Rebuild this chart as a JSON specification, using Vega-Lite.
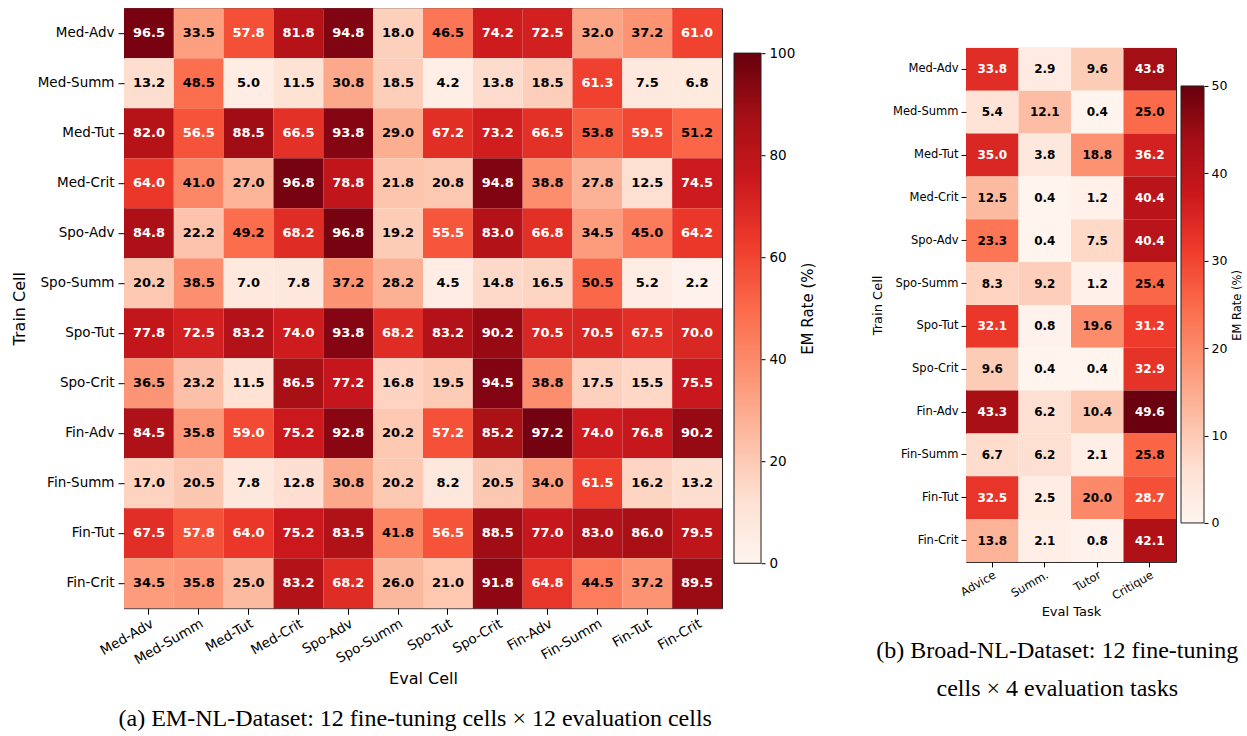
{
  "$schema": "https://vega.github.io/schema/vega-lite/v6.json",
  "background": "white",
  "padding": {"top": 7, "left": 10, "right": 0, "bottom": 0},
  "datasets": {
    "a": [
      {"t":"Med-Adv","e":"Med-Adv","v":96.5},{"t":"Med-Adv","e":"Med-Summ","v":33.5},{"t":"Med-Adv","e":"Med-Tut","v":57.8},{"t":"Med-Adv","e":"Med-Crit","v":81.8},{"t":"Med-Adv","e":"Spo-Adv","v":94.8},{"t":"Med-Adv","e":"Spo-Summ","v":18.0},{"t":"Med-Adv","e":"Spo-Tut","v":46.5},{"t":"Med-Adv","e":"Spo-Crit","v":74.2},{"t":"Med-Adv","e":"Fin-Adv","v":72.5},{"t":"Med-Adv","e":"Fin-Summ","v":32.0},{"t":"Med-Adv","e":"Fin-Tut","v":37.2},{"t":"Med-Adv","e":"Fin-Crit","v":61.0},
      {"t":"Med-Summ","e":"Med-Adv","v":13.2},{"t":"Med-Summ","e":"Med-Summ","v":48.5},{"t":"Med-Summ","e":"Med-Tut","v":5.0},{"t":"Med-Summ","e":"Med-Crit","v":11.5},{"t":"Med-Summ","e":"Spo-Adv","v":30.8},{"t":"Med-Summ","e":"Spo-Summ","v":18.5},{"t":"Med-Summ","e":"Spo-Tut","v":4.2},{"t":"Med-Summ","e":"Spo-Crit","v":13.8},{"t":"Med-Summ","e":"Fin-Adv","v":18.5},{"t":"Med-Summ","e":"Fin-Summ","v":61.3},{"t":"Med-Summ","e":"Fin-Tut","v":7.5},{"t":"Med-Summ","e":"Fin-Crit","v":6.8},
      {"t":"Med-Tut","e":"Med-Adv","v":82.0},{"t":"Med-Tut","e":"Med-Summ","v":56.5},{"t":"Med-Tut","e":"Med-Tut","v":88.5},{"t":"Med-Tut","e":"Med-Crit","v":66.5},{"t":"Med-Tut","e":"Spo-Adv","v":93.8},{"t":"Med-Tut","e":"Spo-Summ","v":29.0},{"t":"Med-Tut","e":"Spo-Tut","v":67.2},{"t":"Med-Tut","e":"Spo-Crit","v":73.2},{"t":"Med-Tut","e":"Fin-Adv","v":66.5},{"t":"Med-Tut","e":"Fin-Summ","v":53.8},{"t":"Med-Tut","e":"Fin-Tut","v":59.5},{"t":"Med-Tut","e":"Fin-Crit","v":51.2},
      {"t":"Med-Crit","e":"Med-Adv","v":64.0},{"t":"Med-Crit","e":"Med-Summ","v":41.0},{"t":"Med-Crit","e":"Med-Tut","v":27.0},{"t":"Med-Crit","e":"Med-Crit","v":96.8},{"t":"Med-Crit","e":"Spo-Adv","v":78.8},{"t":"Med-Crit","e":"Spo-Summ","v":21.8},{"t":"Med-Crit","e":"Spo-Tut","v":20.8},{"t":"Med-Crit","e":"Spo-Crit","v":94.8},{"t":"Med-Crit","e":"Fin-Adv","v":38.8},{"t":"Med-Crit","e":"Fin-Summ","v":27.8},{"t":"Med-Crit","e":"Fin-Tut","v":12.5},{"t":"Med-Crit","e":"Fin-Crit","v":74.5},
      {"t":"Spo-Adv","e":"Med-Adv","v":84.8},{"t":"Spo-Adv","e":"Med-Summ","v":22.2},{"t":"Spo-Adv","e":"Med-Tut","v":49.2},{"t":"Spo-Adv","e":"Med-Crit","v":68.2},{"t":"Spo-Adv","e":"Spo-Adv","v":96.8},{"t":"Spo-Adv","e":"Spo-Summ","v":19.2},{"t":"Spo-Adv","e":"Spo-Tut","v":55.5},{"t":"Spo-Adv","e":"Spo-Crit","v":83.0},{"t":"Spo-Adv","e":"Fin-Adv","v":66.8},{"t":"Spo-Adv","e":"Fin-Summ","v":34.5},{"t":"Spo-Adv","e":"Fin-Tut","v":45.0},{"t":"Spo-Adv","e":"Fin-Crit","v":64.2},
      {"t":"Spo-Summ","e":"Med-Adv","v":20.2},{"t":"Spo-Summ","e":"Med-Summ","v":38.5},{"t":"Spo-Summ","e":"Med-Tut","v":7.0},{"t":"Spo-Summ","e":"Med-Crit","v":7.8},{"t":"Spo-Summ","e":"Spo-Adv","v":37.2},{"t":"Spo-Summ","e":"Spo-Summ","v":28.2},{"t":"Spo-Summ","e":"Spo-Tut","v":4.5},{"t":"Spo-Summ","e":"Spo-Crit","v":14.8},{"t":"Spo-Summ","e":"Fin-Adv","v":16.5},{"t":"Spo-Summ","e":"Fin-Summ","v":50.5},{"t":"Spo-Summ","e":"Fin-Tut","v":5.2},{"t":"Spo-Summ","e":"Fin-Crit","v":2.2},
      {"t":"Spo-Tut","e":"Med-Adv","v":77.8},{"t":"Spo-Tut","e":"Med-Summ","v":72.5},{"t":"Spo-Tut","e":"Med-Tut","v":83.2},{"t":"Spo-Tut","e":"Med-Crit","v":74.0},{"t":"Spo-Tut","e":"Spo-Adv","v":93.8},{"t":"Spo-Tut","e":"Spo-Summ","v":68.2},{"t":"Spo-Tut","e":"Spo-Tut","v":83.2},{"t":"Spo-Tut","e":"Spo-Crit","v":90.2},{"t":"Spo-Tut","e":"Fin-Adv","v":70.5},{"t":"Spo-Tut","e":"Fin-Summ","v":70.5},{"t":"Spo-Tut","e":"Fin-Tut","v":67.5},{"t":"Spo-Tut","e":"Fin-Crit","v":70.0},
      {"t":"Spo-Crit","e":"Med-Adv","v":36.5},{"t":"Spo-Crit","e":"Med-Summ","v":23.2},{"t":"Spo-Crit","e":"Med-Tut","v":11.5},{"t":"Spo-Crit","e":"Med-Crit","v":86.5},{"t":"Spo-Crit","e":"Spo-Adv","v":77.2},{"t":"Spo-Crit","e":"Spo-Summ","v":16.8},{"t":"Spo-Crit","e":"Spo-Tut","v":19.5},{"t":"Spo-Crit","e":"Spo-Crit","v":94.5},{"t":"Spo-Crit","e":"Fin-Adv","v":38.8},{"t":"Spo-Crit","e":"Fin-Summ","v":17.5},{"t":"Spo-Crit","e":"Fin-Tut","v":15.5},{"t":"Spo-Crit","e":"Fin-Crit","v":75.5},
      {"t":"Fin-Adv","e":"Med-Adv","v":84.5},{"t":"Fin-Adv","e":"Med-Summ","v":35.8},{"t":"Fin-Adv","e":"Med-Tut","v":59.0},{"t":"Fin-Adv","e":"Med-Crit","v":75.2},{"t":"Fin-Adv","e":"Spo-Adv","v":92.8},{"t":"Fin-Adv","e":"Spo-Summ","v":20.2},{"t":"Fin-Adv","e":"Spo-Tut","v":57.2},{"t":"Fin-Adv","e":"Spo-Crit","v":85.2},{"t":"Fin-Adv","e":"Fin-Adv","v":97.2},{"t":"Fin-Adv","e":"Fin-Summ","v":74.0},{"t":"Fin-Adv","e":"Fin-Tut","v":76.8},{"t":"Fin-Adv","e":"Fin-Crit","v":90.2},
      {"t":"Fin-Summ","e":"Med-Adv","v":17.0},{"t":"Fin-Summ","e":"Med-Summ","v":20.5},{"t":"Fin-Summ","e":"Med-Tut","v":7.8},{"t":"Fin-Summ","e":"Med-Crit","v":12.8},{"t":"Fin-Summ","e":"Spo-Adv","v":30.8},{"t":"Fin-Summ","e":"Spo-Summ","v":20.2},{"t":"Fin-Summ","e":"Spo-Tut","v":8.2},{"t":"Fin-Summ","e":"Spo-Crit","v":20.5},{"t":"Fin-Summ","e":"Fin-Adv","v":34.0},{"t":"Fin-Summ","e":"Fin-Summ","v":61.5},{"t":"Fin-Summ","e":"Fin-Tut","v":16.2},{"t":"Fin-Summ","e":"Fin-Crit","v":13.2},
      {"t":"Fin-Tut","e":"Med-Adv","v":67.5},{"t":"Fin-Tut","e":"Med-Summ","v":57.8},{"t":"Fin-Tut","e":"Med-Tut","v":64.0},{"t":"Fin-Tut","e":"Med-Crit","v":75.2},{"t":"Fin-Tut","e":"Spo-Adv","v":83.5},{"t":"Fin-Tut","e":"Spo-Summ","v":41.8},{"t":"Fin-Tut","e":"Spo-Tut","v":56.5},{"t":"Fin-Tut","e":"Spo-Crit","v":88.5},{"t":"Fin-Tut","e":"Fin-Adv","v":77.0},{"t":"Fin-Tut","e":"Fin-Summ","v":83.0},{"t":"Fin-Tut","e":"Fin-Tut","v":86.0},{"t":"Fin-Tut","e":"Fin-Crit","v":79.5},
      {"t":"Fin-Crit","e":"Med-Adv","v":34.5},{"t":"Fin-Crit","e":"Med-Summ","v":35.8},{"t":"Fin-Crit","e":"Med-Tut","v":25.0},{"t":"Fin-Crit","e":"Med-Crit","v":83.2},{"t":"Fin-Crit","e":"Spo-Adv","v":68.2},{"t":"Fin-Crit","e":"Spo-Summ","v":26.0},{"t":"Fin-Crit","e":"Spo-Tut","v":21.0},{"t":"Fin-Crit","e":"Spo-Crit","v":91.8},{"t":"Fin-Crit","e":"Fin-Adv","v":64.8},{"t":"Fin-Crit","e":"Fin-Summ","v":44.5},{"t":"Fin-Crit","e":"Fin-Tut","v":37.2},{"t":"Fin-Crit","e":"Fin-Crit","v":89.5}
    ],
    "b": [
      {"t":"Med-Adv","e":"Advice","v":33.8},{"t":"Med-Adv","e":"Summ.","v":2.9},{"t":"Med-Adv","e":"Tutor","v":9.6},{"t":"Med-Adv","e":"Critique","v":43.8},
      {"t":"Med-Summ","e":"Advice","v":5.4},{"t":"Med-Summ","e":"Summ.","v":12.1},{"t":"Med-Summ","e":"Tutor","v":0.4},{"t":"Med-Summ","e":"Critique","v":25.0},
      {"t":"Med-Tut","e":"Advice","v":35.0},{"t":"Med-Tut","e":"Summ.","v":3.8},{"t":"Med-Tut","e":"Tutor","v":18.8},{"t":"Med-Tut","e":"Critique","v":36.2},
      {"t":"Med-Crit","e":"Advice","v":12.5},{"t":"Med-Crit","e":"Summ.","v":0.4},{"t":"Med-Crit","e":"Tutor","v":1.2},{"t":"Med-Crit","e":"Critique","v":40.4},
      {"t":"Spo-Adv","e":"Advice","v":23.3},{"t":"Spo-Adv","e":"Summ.","v":0.4},{"t":"Spo-Adv","e":"Tutor","v":7.5},{"t":"Spo-Adv","e":"Critique","v":40.4},
      {"t":"Spo-Summ","e":"Advice","v":8.3},{"t":"Spo-Summ","e":"Summ.","v":9.2},{"t":"Spo-Summ","e":"Tutor","v":1.2},{"t":"Spo-Summ","e":"Critique","v":25.4},
      {"t":"Spo-Tut","e":"Advice","v":32.1},{"t":"Spo-Tut","e":"Summ.","v":0.8},{"t":"Spo-Tut","e":"Tutor","v":19.6},{"t":"Spo-Tut","e":"Critique","v":31.2},
      {"t":"Spo-Crit","e":"Advice","v":9.6},{"t":"Spo-Crit","e":"Summ.","v":0.4},{"t":"Spo-Crit","e":"Tutor","v":0.4},{"t":"Spo-Crit","e":"Critique","v":32.9},
      {"t":"Fin-Adv","e":"Advice","v":43.3},{"t":"Fin-Adv","e":"Summ.","v":6.2},{"t":"Fin-Adv","e":"Tutor","v":10.4},{"t":"Fin-Adv","e":"Critique","v":49.6},
      {"t":"Fin-Summ","e":"Advice","v":6.7},{"t":"Fin-Summ","e":"Summ.","v":6.2},{"t":"Fin-Summ","e":"Tutor","v":2.1},{"t":"Fin-Summ","e":"Critique","v":25.8},
      {"t":"Fin-Tut","e":"Advice","v":32.5},{"t":"Fin-Tut","e":"Summ.","v":2.5},{"t":"Fin-Tut","e":"Tutor","v":20.0},{"t":"Fin-Tut","e":"Critique","v":28.7},
      {"t":"Fin-Crit","e":"Advice","v":13.8},{"t":"Fin-Crit","e":"Summ.","v":2.1},{"t":"Fin-Crit","e":"Tutor","v":0.8},{"t":"Fin-Crit","e":"Critique","v":42.1}
    ]
  },
  "hconcat": [
    {
      "title": {"text": "(a) EM-NL-Dataset: 12 fine-tuning cells × 12 evaluation cells", "subtitle": " ", "subtitleFontSize": 10, "subtitlePadding": 0, "orient": "bottom", "anchor": "middle", "frame": "bounds", "offset": 20, "dx": 2},
      "bounds": "flush",
      "spacing": 12,
      "resolve": {"scale": {"x": "independent", "y": "independent", "color": "independent"}},
      "hconcat": [
        {
          "data": {"name": "a"},
          "width": 598,
          "height": 600,
          "encoding": {
            "x": {"field": "e", "type": "nominal", "title": "Eval Cell",
              "scale": {"domain": ["Med-Adv","Med-Summ","Med-Tut","Med-Crit","Spo-Adv","Spo-Summ","Spo-Tut","Spo-Crit","Fin-Adv","Fin-Summ","Fin-Tut","Fin-Crit"], "paddingInner": 0, "paddingOuter": 0},
              "axis": {"labelAngle": -30, "labelAlign": "right", "labelBaseline": "top", "labelFontSize": 13.5, "titleFontSize": 16, "tickSize": 6, "labelPadding": 2, "titlePadding": 4}},
            "y": {"field": "t", "type": "nominal", "title": "Train Cell",
              "scale": {"domain": ["Med-Adv","Med-Summ","Med-Tut","Med-Crit","Spo-Adv","Spo-Summ","Spo-Tut","Spo-Crit","Fin-Adv","Fin-Summ","Fin-Tut","Fin-Crit"], "paddingInner": 0, "paddingOuter": 0},
              "axis": {"labelFontSize": 13.5, "titleFontSize": 16, "tickSize": 6, "labelPadding": 4, "titlePadding": 10}}
          },
          "layer": [
            {"mark": {"type": "rect"},
             "encoding": {"color": {"field": "v", "type": "quantitative", "legend": null,
               "scale": {"domain": [0, 12.5, 25, 37.5, 50, 62.5, 75, 87.5, 100], "range": ["#fff5f0","#fee0d2","#fcbba1","#fc9272","#fb6a4a","#ef3b2c","#cb181d","#a50f15","#67000d"]}}}},
            {"mark": {"type": "text", "font": "DejaVu Sans", "fontWeight": "bold", "fontSize": 13},
             "encoding": {"text": {"field": "v", "type": "quantitative", "format": ".1f"},
               "color": {"condition": {"test": "datum.v > 55", "value": "white"}, "value": "black"}}}
          ]
        },
        {
          "data": {"values": [{"lo": 0, "hi": 100}]},
          "width": 27,
          "height": 600,
          "view": {"stroke": null},
          "mark": {"type": "rect", "stroke": "#222222", "strokeWidth": 1,
            "fill": {"gradient": "linear", "x1": 0, "y1": 1, "x2": 0, "y2": 0,
              "stops": [{"offset": 0, "color": "#fff5f0"},{"offset": 0.125, "color": "#fee0d2"},{"offset": 0.25, "color": "#fcbba1"},{"offset": 0.375, "color": "#fc9272"},{"offset": 0.5, "color": "#fb6a4a"},{"offset": 0.625, "color": "#ef3b2c"},{"offset": 0.75, "color": "#cb181d"},{"offset": 0.875, "color": "#a50f15"},{"offset": 1, "color": "#67000d"}]}},
          "encoding": {
            "y": {"field": "lo", "type": "quantitative", "title": "EM Rate (%)",
              "scale": {"domain": [-8.8, 108.8], "nice": false, "zero": false},
              "axis": {"orient": "right", "values": [0, 20, 40, 60, 80, 100], "tickSize": 4, "labelPadding": 4, "labelFontSize": 13.5, "titleFontSize": 15, "titleAngle": 270, "titleBaseline": "top", "titlePadding": 6, "grid": false, "domain": false}},
            "y2": {"field": "hi"}
          }
        }
      ]
    },
    {
      "title": {"text": ["(b) Broad-NL-Dataset: 12 fine-tuning", "cells × 4 evaluation tasks"], "orient": "bottom", "anchor": "middle", "frame": "bounds", "offset": 20, "dx": 0, "lineHeight": 38},
      "bounds": "flush",
      "spacing": 5,
      "resolve": {"scale": {"x": "independent", "y": "independent", "color": "independent"}},
      "hconcat": [
        {
          "data": {"name": "b"},
          "width": 210,
          "height": 514,
          "encoding": {
            "x": {"field": "e", "type": "nominal", "title": "Eval Task",
              "scale": {"domain": ["Advice","Summ.","Tutor","Critique"], "paddingInner": 0, "paddingOuter": 0},
              "axis": {"labelAngle": -30, "labelAlign": "right", "labelBaseline": "top", "labelFontSize": 11.5, "titleFontSize": 13, "tickSize": 5, "labelPadding": 2, "titlePadding": 4}},
            "y": {"field": "t", "type": "nominal", "title": "Train Cell",
              "scale": {"domain": ["Med-Adv","Med-Summ","Med-Tut","Med-Crit","Spo-Adv","Spo-Summ","Spo-Tut","Spo-Crit","Fin-Adv","Fin-Summ","Fin-Tut","Fin-Crit"], "paddingInner": 0, "paddingOuter": 0},
              "axis": {"labelFontSize": 11.5, "titleFontSize": 13, "tickSize": 5, "labelPadding": 3, "titlePadding": 8}}
          },
          "layer": [
            {"mark": {"type": "rect"},
             "encoding": {"color": {"field": "v", "type": "quantitative", "legend": null,
               "scale": {"domain": [0, 6.25, 12.5, 18.75, 25, 31.25, 37.5, 43.75, 50], "range": ["#fff5f0","#fee0d2","#fcbba1","#fc9272","#fb6a4a","#ef3b2c","#cb181d","#a50f15","#67000d"]}}}},
            {"mark": {"type": "text", "font": "DejaVu Sans", "fontWeight": "bold", "fontSize": 12},
             "encoding": {"text": {"field": "v", "type": "quantitative", "format": ".1f"},
               "color": {"condition": {"test": "datum.v > 27.5", "value": "white"}, "value": "black"}}}
          ]
        },
        {
          "data": {"values": [{"lo": 0, "hi": 50}]},
          "width": 23,
          "height": 514,
          "view": {"stroke": null},
          "mark": {"type": "rect", "stroke": "#222222", "strokeWidth": 1,
            "fill": {"gradient": "linear", "x1": 0, "y1": 1, "x2": 0, "y2": 0,
              "stops": [{"offset": 0, "color": "#fff5f0"},{"offset": 0.125, "color": "#fee0d2"},{"offset": 0.25, "color": "#fcbba1"},{"offset": 0.375, "color": "#fc9272"},{"offset": 0.5, "color": "#fb6a4a"},{"offset": 0.625, "color": "#ef3b2c"},{"offset": 0.75, "color": "#cb181d"},{"offset": 0.875, "color": "#a50f15"},{"offset": 1, "color": "#67000d"}]}},
          "encoding": {
            "y": {"field": "lo", "type": "quantitative", "title": "EM Rate (%)",
              "scale": {"domain": [-4.46, 54.35], "nice": false, "zero": false},
              "axis": {"orient": "right", "values": [0, 10, 20, 30, 40, 50], "tickSize": 4, "labelPadding": 3, "labelFontSize": 12.5, "titleFontSize": 11.5, "titleAngle": 270, "titleBaseline": "top", "titlePadding": 5, "grid": false, "domain": false}},
            "y2": {"field": "hi"}
          }
        }
      ]
    }
  ],
  "spacing": 55,
  "center": true,
  "resolve": {"scale": {"x": "independent", "y": "independent", "color": "independent"}},
  "config": {
    "font": "DejaVu Sans",
    "view": {"stroke": "#222222", "strokeWidth": 1},
    "axis": {"labelColor": "black", "titleColor": "black", "tickColor": "black", "domain": false, "grid": false, "titleFontWeight": "normal", "labelFont": "DejaVu Sans", "titleFont": "DejaVu Sans"},
    "title": {"font": "Liberation Serif", "fontSize": 24, "fontWeight": "normal", "color": "black"}
  }
}
